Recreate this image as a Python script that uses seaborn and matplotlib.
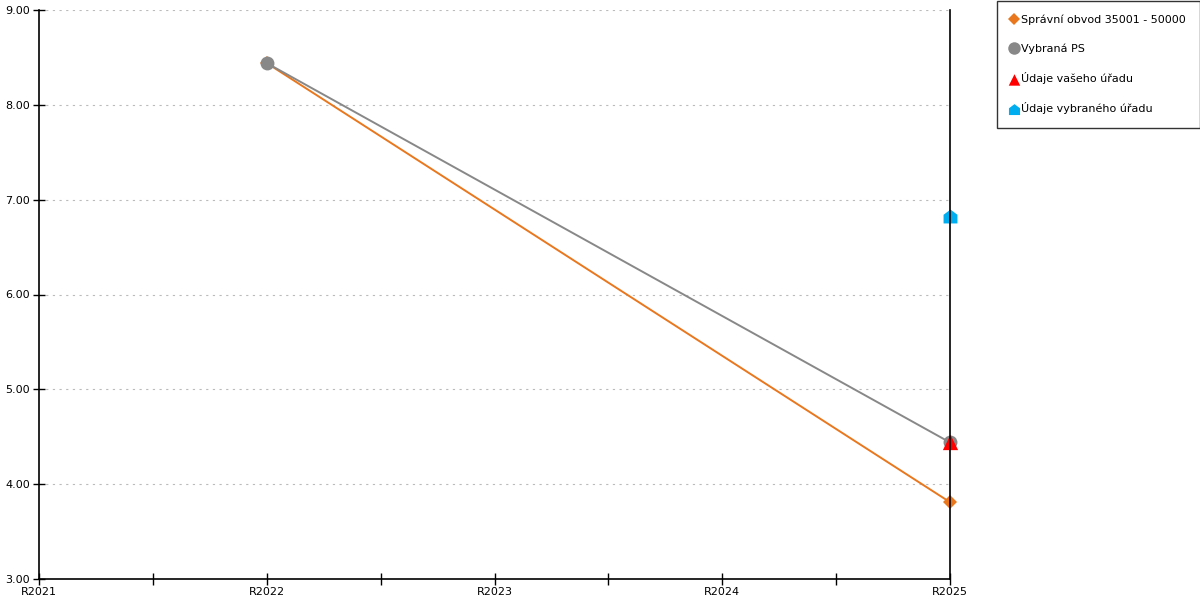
import matplotlib
matplotlib.use("Agg")
import matplotlib.pyplot as plt
import seaborn as sns
import numpy as np
import pandas as pd
from matplotlib.path import Path

categories = ["R2021", "R2022", "R2023", "R2024", "R2025"]
spravni_obvod = [np.nan, 8.44, np.nan, np.nan, 3.81]
vybrana_ps = [np.nan, 8.44, np.nan, np.nan, 4.44]
vaseho_uradu = [np.nan, np.nan, np.nan, np.nan, 4.44]
vybraneho_uradu = [np.nan, np.nan, np.nan, np.nan, 6.83]

series_names = ["Správní obvod 35001 - 50000", "Vybraná PS",
                "Údaje vašeho úřadu", "Údaje vybraného úřadu"]

sns.set_theme(style="white")
plt.rcParams['font.family'] = ['DejaVu Sans']

house = Path([(-1, -1), (1, -1), (1, 0.25), (0, 1), (-1, 0.25), (-1, -1)],
             [Path.MOVETO, Path.LINETO, Path.LINETO, Path.LINETO, Path.LINETO, Path.CLOSEPOLY])

fig = plt.figure(figsize=(12, 6), dpi=100)
ax = fig.add_axes([39/1200, 1 - 579/600, (950-39)/1200, (579-10)/600])

x = np.arange(len(categories))

def draw(vals, color, marker, ms, label, line=True):
    df = pd.DataFrame({"x": x, "y": vals}).dropna()
    if line:
        sns.lineplot(data=df, x="x", y="y", ax=ax, color=color, linewidth=1.4,
                     marker=marker, markersize=ms, markeredgewidth=0,
                     label=label, zorder=3, clip_on=False)
    else:
        sns.scatterplot(data=df, x="x", y="y", ax=ax, color=color, marker=marker,
                        s=ms**2, linewidth=0, label=label, zorder=4, clip_on=False)

draw(spravni_obvod, "#e8771e", "D", 7, series_names[0])
draw(vybrana_ps, "#888888", "o", 10, series_names[1])
draw(vaseho_uradu, "#ff0000", "^", 11, series_names[2], line=False)
draw(vybraneho_uradu, "#00aeef", house, 10, series_names[3], line=False)

ax.set_xlim(0, 4)
ax.set_ylim(3, 9)
ax.set_xticks(x)
ax.set_xticklabels(categories)
ax.set_xticks([0.5, 1.5, 2.5, 3.5], minor=True)
ax.set_yticks(np.arange(3, 10, 1))
ax.set_yticklabels([f"{v:.2f}" for v in np.arange(3, 10, 1)])
ax.set_xlabel("")
ax.set_ylabel("")

ax.grid(axis="y", color="#bbbbbb", linestyle=(0, (2, 4)), linewidth=0.8)
ax.grid(axis="x", visible=False)
for s in ["left", "bottom", "right"]:
    ax.spines[s].set_visible(True)
    ax.spines[s].set_color("black")
    ax.spines[s].set_linewidth(1.2)
    ax.spines[s].set_zorder(10)
ax.spines["top"].set_visible(False)

ax.tick_params(axis="both", which="both", direction="inout", length=9, width=1,
               color="black", labelsize=8, labelcolor="black", pad=2)
ax.tick_params(axis="x", which="both", bottom=True, pad=1)
ax.tick_params(axis="y", which="both", left=True, right=False)
ax.tick_params(axis="x", which="minor", length=9)

handles, labels = ax.get_legend_handles_labels()
ax.legend_.remove()
leg = fig.legend(handles, labels, loc="upper left",
                 bbox_to_anchor=(997/1200, 1 - 1/600), fontsize=8,
                 frameon=True, fancybox=False, edgecolor="black",
                 labelcolor="black",
                 labelspacing=1.65, handlelength=0.6, handletextpad=0.4,
                 borderpad=1.2, borderaxespad=0, markerscale=0.9)
leg.get_frame().set_linewidth(1)
for h in leg.legend_handles:
    try:
        h.set_linestyle("None")
    except Exception:
        pass

fig.savefig("out.png", dpi=100)
